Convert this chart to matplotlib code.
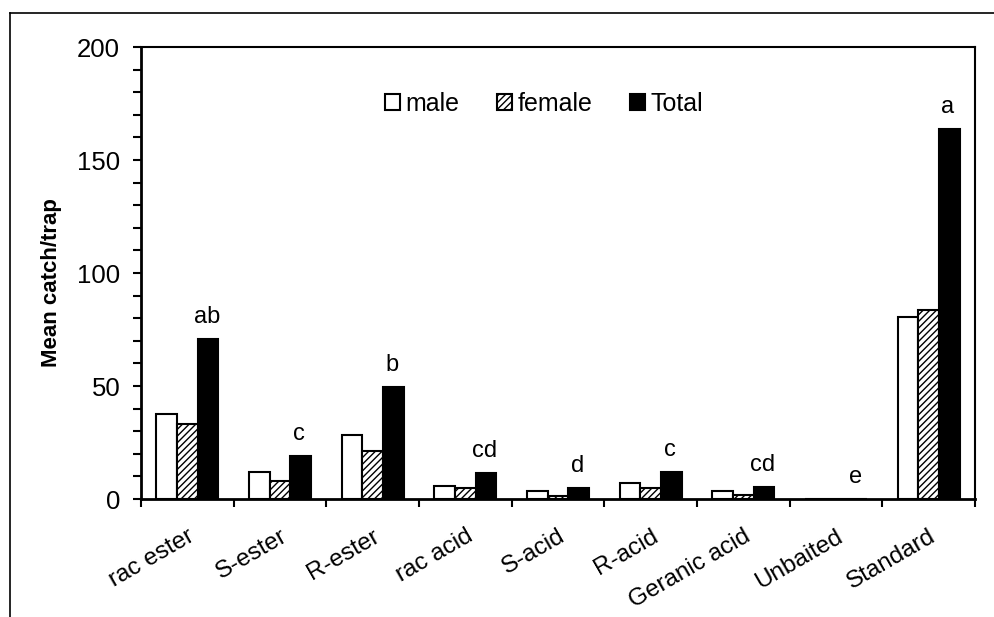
import numpy as np
import matplotlib
matplotlib.use("Agg")
import matplotlib.pyplot as plt
import matplotlib.transforms as mtransforms
from matplotlib.lines import Line2D
from matplotlib.ticker import MultipleLocator, FixedLocator

plt.rcParams['font.family'] = ['Liberation Sans', 'DejaVu Sans']
plt.rcParams['hatch.linewidth'] = 1.0

# Trap catches per lure
treatments = ["rac ester", "S-ester", "R-ester", "rac acid", "S-acid",
              "R-acid", "Geranic acid", "Unbaited", "Standard"]
male = [37.5, 12.0, 28.4, 5.6, 3.5, 7.2, 3.7, 0.0, 80.7]
female = [33.0, 7.9, 21.3, 5.0, 1.5, 4.7, 1.8, 0.0, 83.5]
total = [70.6, 19.0, 49.4, 11.3, 4.7, 12.0, 5.4, 0.0, 163.7]
letters = ["ab", "c", "b", "cd", "d", "c", "cd", "e", "a"]

fig = plt.figure(figsize=(9.94, 6.17), dpi=100)
ax = fig.add_axes([0.1419, 0.1912, 0.981 - 0.1419, 0.9238 - 0.1912])

x = np.arange(len(treatments))
w = 0.223
edge = dict(edgecolor="black", linewidth=1.5)
ax.bar(x - w, male, w, color="white", label="male", **edge)
ax.bar(x, female, w, color="white", hatch="/////", label="female", **edge)
ax.bar(x + w, total, w, color="black", label="Total", **edge)

for xi, v, s in zip(x, total, letters):
    ax.annotate(s, (xi + w, v), xytext=(-1, 8), textcoords="offset points",
                ha="center", va="bottom", fontsize=17)

ax.set_xlim(-0.5, len(treatments) - 0.5)
ax.set_ylim(0, 200)
ax.yaxis.set_major_locator(MultipleLocator(50))
ax.yaxis.set_minor_locator(MultipleLocator(10))
ax.tick_params(axis="y", which="both", direction="out", length=6, width=1.5,
               labelsize=18.5, pad=9)
ax.set_xticks(x)
ax.set_xticklabels(treatments, rotation=30, ha="right", rotation_mode="anchor",
                   fontsize=17.5)
shift = mtransforms.ScaledTranslation(-9 / 100, 0, fig.dpi_scale_trans)
for lab in ax.get_xticklabels():
    lab.set_transform(lab.get_transform() + shift)
ax.xaxis.set_minor_locator(FixedLocator(np.arange(len(treatments) + 1) - 0.5))
ax.tick_params(axis="x", which="major", length=0, pad=19)
ax.tick_params(axis="x", which="minor", direction="out", length=6, width=1.5)

ax.spines["left"].set_linewidth(2.0)
ax.spines["bottom"].set_linewidth(2.0)
ax.spines["top"].set_linewidth(1.5)
ax.spines["right"].set_linewidth(1.5)

ax.set_ylabel("Mean catch/trap", fontsize=16, fontweight="bold")
ax.yaxis.set_label_coords(-0.0947, 0.478)

leg = ax.legend(loc="center", bbox_to_anchor=(0.483, 0.874), ncol=3,
                frameon=False, fontsize=18, handlelength=0.62, handleheight=0.62,
                handletextpad=0.2, columnspacing=1.5, borderaxespad=0)

# outer frame around the figure
fig.add_artist(Line2D([10 / 994, 1.0], [1 - 12.5 / 617, 1 - 12.5 / 617],
                      transform=fig.transFigure, color="black", lw=1.2))
fig.add_artist(Line2D([10 / 994, 10 / 994], [0.0, 1 - 12.5 / 617],
                      transform=fig.transFigure, color="black", lw=1.2))

fig.savefig("out.png", dpi=100)
